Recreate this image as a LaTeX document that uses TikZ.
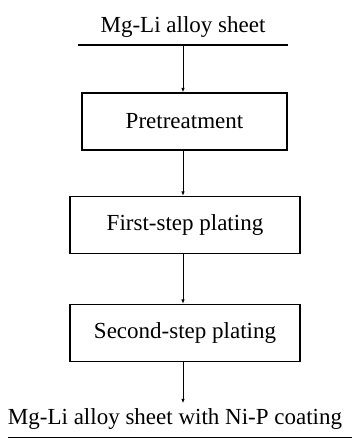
\documentclass[tikz,border=0pt]{standalone}
\usepackage{fontspec}
\setmainfont{Liberation Serif}
\usetikzlibrary{positioning,arrows.meta}

\begin{document}
\begin{tikzpicture}[x=1pt,y=-1pt,
				every node/.style={font=\fontsize{23}{27}\selectfont,inner sep=0pt},
				stage/.style={draw,rectangle,line width=1.2pt,minimum height=57pt},
				flow/.style={line width=0.9pt,-{Latex[length=4.5pt,width=3.5pt]}}]
				\useasboundingbox (0,0) rectangle (352,439);
				\node (SHEET)                          at (183,27)  {Mg-Li alloy sheet};
				\coordinate (SL) at (78,45);
				\coordinate (SR) at (288,45);
				\coordinate (SM) at (183,45);
				\node (PRE)   [stage,minimum width=205pt] at (184.5,121.5) {Pretreatment};
				\node (FIRST) [stage,minimum width=230pt] at (185,225)     {First-step plating};
				\node (SECOND)[stage,minimum width=230pt] at (185,333)     {Second-step plating};
				\node (COAT)                           at (175,419) {Mg-Li alloy sheet with Ni-P coating};
				\coordinate (CL) at (8,437.5);
				\coordinate (CR) at (352,437.5);
				
				\draw[line width=1.2pt] (SL) -- (SR) (CL) -- (CR);
				\draw[flow] (SM) -- (SM |- PRE.north);
				\draw[flow] (SM |- PRE.south) -- (SM |- FIRST.north);
				\draw[flow] (SM |- FIRST.south) -- (SM |- SECOND.north);
				\draw[flow,shorten >=5pt] (SM |- SECOND.south) -- (SM |- COAT.north);
			\end{tikzpicture}
\end{document}
